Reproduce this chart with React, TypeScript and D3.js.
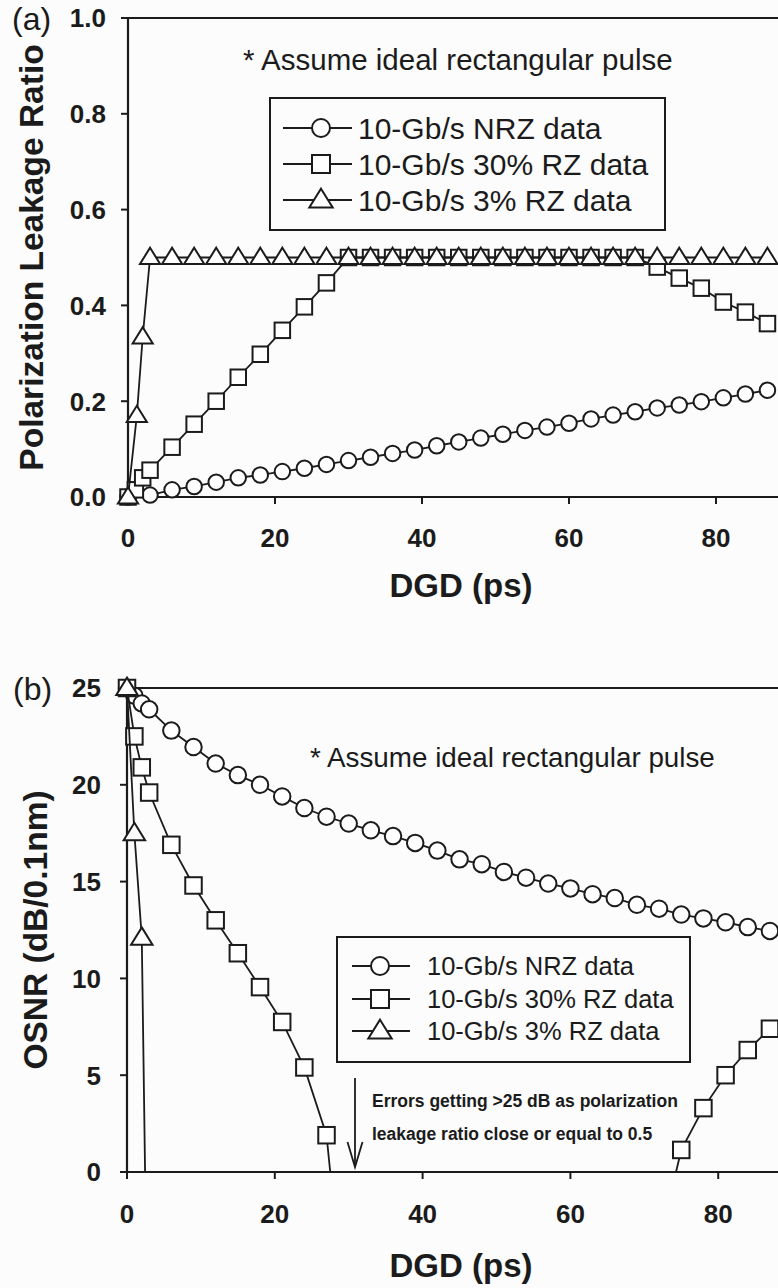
import React from 'react';
import * as d3 from 'd3';

const FONT = '"Liberation Sans", Arial, Helvetica, sans-serif';
const INK = '#1b1b1b';

// ---------- shared ticks / labels ----------
const X_TICKS = [0, 20, 40, 60, 80];
const A_Y_TICKS = [0, 0.2, 0.4, 0.6, 0.8, 1.0];
const B_Y_TICKS = [0, 5, 10, 15, 20, 25];
const SERIES_NAMES = ['10-Gb/s NRZ data', '10-Gb/s 30% RZ data', '10-Gb/s 3% RZ data'];
const NOTE_TEXT = '* Assume ideal rectangular pulse';
const X_TITLE = 'DGD (ps)';
const A_Y_TITLE = 'Polarization Leakage Ratio';
const B_Y_TITLE = 'OSNR (dB/0.1nm)';
const ANNOTATION = ['Errors getting >25 dB as polarization', 'leakage ratio close or equal to 0.5'];

// ---------- panel (a): polarization leakage ratio ----------
const A_NRZ_DGD = [0, 3, 6, 9, 12, 15, 18, 21, 24, 27, 30, 33, 36, 39, 42, 45, 48, 51, 54, 57, 60, 63, 66, 69, 72, 75, 78, 81, 84, 87];
const A_NRZ_VAL = [0, 0.004, 0.015, 0.022, 0.031, 0.04, 0.046, 0.053, 0.06, 0.068, 0.076, 0.083, 0.091, 0.098, 0.107, 0.115, 0.123, 0.131, 0.139, 0.146, 0.154, 0.163, 0.171, 0.178, 0.186, 0.192, 0.199, 0.207, 0.215, 0.223];

const A_RZ30_DGD = [0, 1, 2, 3, 6, 9, 12, 15, 18, 21, 24, 27, 30, 33, 36, 39, 42, 45, 48, 51, 54, 57, 60, 63, 66, 69, 72, 75, 78, 81, 84, 87];
const A_RZ30_VAL = [0, 0.015, 0.04, 0.056, 0.104, 0.152, 0.2, 0.25, 0.298, 0.348, 0.397, 0.447, 0.5, 0.5, 0.5, 0.5, 0.5, 0.5, 0.5, 0.5, 0.5, 0.5, 0.5, 0.5, 0.5, 0.5, 0.48, 0.457, 0.436, 0.407, 0.386, 0.362];

const A_RZ3_DGD = [0, 1.2, 2, 3, 6, 9, 12, 15, 18, 21, 24, 27, 30, 33, 36, 39, 42, 45, 48, 51, 54, 57, 60, 63, 66, 69, 72, 75, 78, 81, 84, 87];
const A_RZ3_VAL = [0, 0.17, 0.334, 0.5, 0.5, 0.5, 0.5, 0.5, 0.5, 0.5, 0.5, 0.5, 0.5, 0.5, 0.5, 0.5, 0.5, 0.5, 0.5, 0.5, 0.5, 0.5, 0.5, 0.5, 0.5, 0.5, 0.5, 0.5, 0.5, 0.5, 0.5, 0.5];

// ---------- panel (b): required OSNR ----------
const B_NRZ_DGD = [0, 1, 2, 3, 6, 9, 12, 15, 18, 21, 24, 27, 30, 33, 36, 39, 42, 45, 48, 51, 54, 57, 60, 63, 66, 69, 72, 75, 78, 81, 84, 87];
const B_NRZ_VAL = [25, 24.6, 24.2, 23.9, 22.8, 21.95, 21.1, 20.5, 20.0, 19.4, 18.8, 18.35, 18.0, 17.65, 17.35, 17.0, 16.6, 16.15, 15.9, 15.5, 15.2, 14.9, 14.65, 14.35, 14.15, 13.8, 13.6, 13.3, 13.1, 12.9, 12.65, 12.45];

// values below 0 are off-scale (errors) and are clipped at the axis
const B_RZ30_DGD = [0, 1, 2, 3, 6, 9, 12, 15, 18, 21, 24, 27, 30, 72, 75, 78, 81, 84, 87];
const B_RZ30_VAL = [25, 22.5, 20.9, 19.6, 16.9, 14.8, 13.0, 11.3, 9.55, 7.75, 5.4, 1.9, -9.5, -3.7, 1.14, 3.3, 5.0, 6.3, 7.4];

const B_RZ3_DGD = [0, 1, 2, 3];
const B_RZ3_VAL = [25, 17.5, 12.1, -15];

type Shape = 'circle' | 'square' | 'triangle';
const SHAPES: Shape[] = ['circle', 'square', 'triangle'];

function Marker({ shape, cx, cy, s }: { shape: Shape; cx: number; cy: number; s: number }) {
  const common = { fill: '#fff', stroke: INK, strokeWidth: 2 };
  if (shape === 'circle') return <circle cx={cx} cy={cy} r={s / 2} {...common} />;
  if (shape === 'square') return <rect x={cx - s / 2} y={cy - s / 2} width={s} height={s} {...common} />;
  const w = s * 1.3;
  const h = s * 1.05;
  const p = d3.path();
  p.moveTo(cx, cy - h * 0.6);
  p.lineTo(cx + w / 2, cy + h * 0.4);
  p.lineTo(cx - w / 2, cy + h * 0.4);
  p.closePath();
  return <path d={p.toString()} {...common} strokeLinejoin="miter" />;
}

interface PanelProps {
  id: string;
  left: number; right: number; top: number; bottom: number;
  yMax: number; yTicks: number[]; yFmt: (v: number) => string; yLabelGap: number;
  series: { dgd: number[]; val: number[] }[];
  markerSize: number;
  letter: string; letterX: number; letterY: number;
  yTitle: string; yTitleX: number;
  xTitleX: number; xTitleY: number; xLabelDy: number;
  note: { x: number; y: number; size: number };
  legend: { x0: number; y0: number; x1: number; y1: number; rows: number[]; lx0: number; lx1: number; mx: number; tx: number; size: number; ms: number };
  children?: React.ReactNode;
}

function Panel(p: PanelProps) {
  const x = d3.scaleLinear().domain([0, 100]).range([p.left, p.right]);
  const y = d3.scaleLinear().domain([0, p.yMax]).range([p.bottom, p.top]);
  const line = d3.line<[number, number]>().x((d) => x(d[0])).y((d) => y(d[1]));
  const W = 778;
  const clipId = `clip-${p.id}`;
  const L = p.legend;
  return (
    <g>
      <defs>
        <clipPath id={clipId}>
          <rect x={p.left} y={p.top} width={p.right - p.left} height={p.bottom - p.top} />
        </clipPath>
      </defs>
      {/* frame */}
      <line x1={p.left} x2={W + 5} y1={p.top} y2={p.top} stroke={INK} strokeWidth={2.2} />
      <line x1={p.left} x2={W + 5} y1={p.bottom} y2={p.bottom} stroke={INK} strokeWidth={2.2} />
      <line x1={p.left} x2={p.left} y1={p.top} y2={p.bottom} stroke={INK} strokeWidth={2.2} />
      {/* y ticks */}
      {p.yTicks.map((t) => (
        <g key={`y${t}`}>
          <line x1={p.left - 7} x2={p.left} y1={y(t)} y2={y(t)} stroke={INK} strokeWidth={2} />
          <text x={p.left - p.yLabelGap} y={y(t)} dy="0.36em" textAnchor="end" fontFamily={FONT} fontWeight="bold" fontSize={26} fill={INK}>
            {p.yFmt(t)}
          </text>
        </g>
      ))}
      {/* x ticks */}
      {X_TICKS.map((t) => (
        <g key={`x${t}`}>
          <line x1={x(t)} x2={x(t)} y1={p.bottom} y2={p.bottom + 7} stroke={INK} strokeWidth={2} />
          <text x={x(t)} y={p.bottom + p.xLabelDy} textAnchor="middle" fontFamily={FONT} fontWeight="bold" fontSize={26} fill={INK}>
            {t}
          </text>
        </g>
      ))}
      {/* titles */}
      <text x={p.letterX} y={p.letterY} fontFamily={FONT} fontSize={32} fill={INK}>{p.letter}</text>
      <text transform={`translate(${p.yTitleX},${(p.top + p.bottom) / 2}) rotate(-90)`} textAnchor="middle" fontFamily={FONT} fontWeight="bold" fontSize={33.5} fill={INK}>
        {p.yTitle}
      </text>
      <text x={p.xTitleX} y={p.xTitleY} textAnchor="middle" fontFamily={FONT} fontWeight="bold" fontSize={33} fill={INK}>{X_TITLE}</text>
      <text x={p.note.x} y={p.note.y} fontFamily={FONT} fontSize={p.note.size} fill={INK}>{NOTE_TEXT}</text>
      {/* legend */}
      <rect x={L.x0} y={L.y0} width={L.x1 - L.x0} height={L.y1 - L.y0} fill="none" stroke={INK} strokeWidth={2} />
      {SERIES_NAMES.map((name, i) => (
        <g key={name}>
          <line x1={L.lx0} x2={L.lx1} y1={L.rows[i]} y2={L.rows[i]} stroke={INK} strokeWidth={1.8} />
          <Marker shape={SHAPES[i]} cx={L.mx} cy={L.rows[i]} s={L.ms} />
          <text x={L.tx} y={L.rows[i]} dy="0.36em" fontFamily={FONT} fontSize={L.size} fill={INK}>{name}</text>
        </g>
      ))}
      {/* data */}
      {p.series.map((s, i) => {
        const pts: [number, number][] = s.dgd.map((d, k) => [d, s.val[k]]);
        return (
          <g key={`s${i}`}>
            <path d={line(pts) || ''} fill="none" stroke={INK} strokeWidth={1.8} clipPath={`url(#${clipId})`} />
            {pts
              .filter((d) => d[1] >= 0 && d[1] <= p.yMax && d[0] <= 100)
              .map((d, k) => (
                <Marker key={k} shape={SHAPES[i]} cx={x(d[0])} cy={y(d[1])} s={p.markerSize} />
              ))}
          </g>
        );
      })}
      {p.children}
    </g>
  );
}

export default function App() {
  const fmt1 = d3.format('.1f');
  const fmt0 = d3.format('d');
  return (
    <svg width={778} height={1288} style={{ position: 'absolute', left: 0, top: 0, background: '#fcfcfc' }}>
      <rect x={0} y={0} width={778} height={1288} fill="#fcfcfc" />
      <Panel
        id="a"
        left={128} right={863} top={18} bottom={497}
        yMax={1} yTicks={A_Y_TICKS} yFmt={fmt1} yLabelGap={22}
        series={[
          { dgd: A_NRZ_DGD, val: A_NRZ_VAL },
          { dgd: A_RZ30_DGD, val: A_RZ30_VAL },
          { dgd: A_RZ3_DGD, val: A_RZ3_VAL },
        ]}
        markerSize={15.5}
        letter="(a)" letterX={12} letterY={30}
        yTitle={A_Y_TITLE} yTitleX={43}
        xTitleX={461} xTitleY={597} xLabelDy={50}
        note={{ x: 243, y: 70, size: 29.5 }}
        legend={{ x0: 270, y0: 98, x1: 665, y1: 230, rows: [128, 164, 200], lx0: 283, lx1: 352, mx: 321, tx: 358, size: 30, ms: 18 }}
      />
      <Panel
        id="b"
        left={127} right={866} top={688} bottom={1172}
        yMax={25} yTicks={B_Y_TICKS} yFmt={fmt0} yLabelGap={26}
        series={[
          { dgd: B_NRZ_DGD, val: B_NRZ_VAL },
          { dgd: B_RZ30_DGD, val: B_RZ30_VAL },
          { dgd: B_RZ3_DGD, val: B_RZ3_VAL },
        ]}
        markerSize={16.5}
        letter="(b)" letterX={13} letterY={700}
        yTitle={B_Y_TITLE} yTitleX={47}
        xTitleX={461} xTitleY={1277} xLabelDy={51}
        note={{ x: 310, y: 767, size: 27.8 }}
        legend={{ x0: 337, y0: 937, x1: 690, y1: 1062, rows: [966, 999, 1031], lx0: 352, lx1: 410, mx: 380, tx: 427, size: 25.5, ms: 18 }}
      >
        <g>
          <line x1={355} x2={355} y1={1078} y2={1167} stroke={INK} strokeWidth={1.8} />
          <polyline points="347.5,1142 355,1167 362.5,1142" fill="none" stroke={INK} strokeWidth={1.8} />
          {ANNOTATION.map((t, i) => (
            <text key={t} x={372} y={1107 + i * 33} fontFamily={FONT} fontWeight="bold" fontSize={17.5} fill={INK}>{t}</text>
          ))}
        </g>
      </Panel>
    </svg>
  );
}
